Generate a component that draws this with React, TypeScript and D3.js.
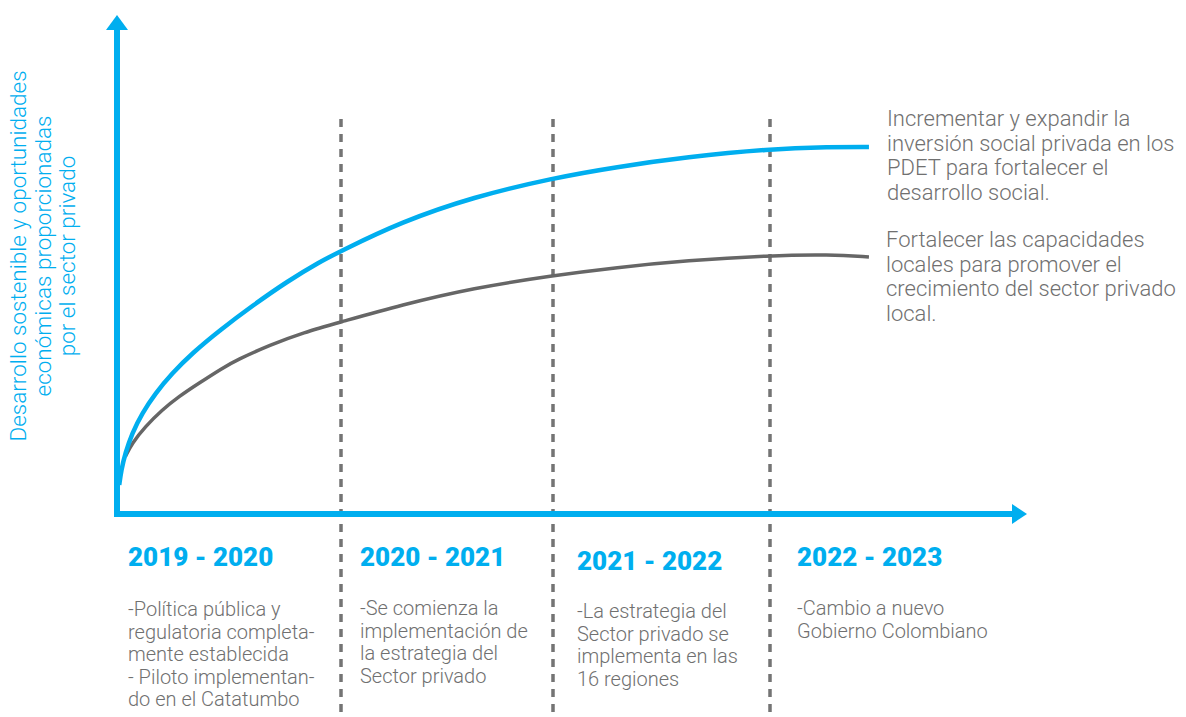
import * as d3 from "d3"

// period boundaries (years) and the labels under each period
const years = [2019, 2020, 2021, 2022, 2023]
const dividers = [2020, 2021, 2022]
const periods = ["2019 - 2020", "2020 - 2021", "2021 - 2022", "2022 - 2023"]
const periodNotes = [
  ["-Política pública y", "regulatoria completa-", "mente establecida", "- Piloto implementan-", "do en el Catatumbo"],
  ["-Se comienza la", "implementación de", "la estrategia del", "Sector privado"],
  ["-La estrategia del", "Sector privado se", "implementa en las", "16 regiones"],
  ["-Cambio a nuevo", "Gobierno Colombiano"],
]

// curve readings: x in years, y on an arbitrary 0-100 scale
const socialX = [2019.01, 2019.019, 2019.037, 2019.067, 2019.112, 2019.171, 2019.246, 2019.335, 2019.46, 2019.609, 2019.758, 2019.906, 2020, 2020.283, 2020.623, 2021, 2021.29, 2021.618, 2021.995, 2022.276, 2022.456]
const socialY = [5.8, 8.8, 12.14, 16.14, 20.14, 24.14, 28.14, 32.14, 36.8, 41.8, 46.46, 50.46, 52.6, 58.4, 63.4, 67.2, 69.4, 71.4, 73, 73.4, 73.4]
const localX = [2019.037, 2019.067, 2019.126, 2019.201, 2019.275, 2019.365, 2019.469, 2019.534, 2019.683, 2019.832, 2020, 2020.283, 2020.623, 2021, 2021.29, 2021.618, 2021.995, 2022.276, 2022.456]
const localY = [11.46, 14.14, 17.46, 20.8, 23.46, 26.14, 29.14, 30.8, 33.8, 36.3, 38.4, 41.8, 45.2, 47.7, 49.3, 50.7, 51.7, 51.9, 51.4]

const socialLabel = ["Incrementar y expandir la", "inversión social privada en los", "PDET para fortalecer el", "desarrollo social."]
const localLabel = ["Fortalecer las capacidades", "locales para promover el", "crecimiento del sector privado", "local."]
const yTitle = ["Desarrollo sostenible y oportunidades", "económicas proporcionadas", "por el sector privado"]

const W = 1186
const H = 717
const CYAN = "#00aeef"
const GREY = "#666666"
const TEXT = "#707070"
const FONT = "Roboto, 'Noto Sans', sans-serif"

export default function App() {
  const x = d3.scaleLinear().domain(years).range([117, 341, 553, 770, 987])
  const y = d3.scaleLinear().domain([0, 100]).range([514, 14])

  // basis keeps the hand-read points from producing small wobbles
  const line = d3
    .line<[number, number]>()
    .x((d) => x(d[0]))
    .y((d) => y(d[1]))
    .curve(d3.curveBasis)

  const social = socialX.map((v, i) => [v, socialY[i]] as [number, number])
  const local = localX.map((v, i) => [v, localY[i]] as [number, number])

  const x0 = x(2019)
  const yBase = y(0)
  const headX = [128, 360, 577, 797]
  const headY = [566, 566, 570, 566]
  const noteY = [616, 615, 618, 615]

  return (
    <svg width={W} height={H} style={{ position: "absolute", left: 0, top: 0 }} fontFamily={FONT}>
      <rect width={W} height={H} fill="#fff" />

      {/* period dividers */}
      {dividers.map((d) => (
        <line key={d} x1={x(d)} x2={x(d)} y1={119} y2={H} stroke={GREY} strokeWidth={3.5} strokeDasharray="8 7" opacity={0.9} />
      ))}

      {/* curves */}
      <path d={line(local) ?? ""} fill="none" stroke={GREY} strokeWidth={3.5} />
      <path d={line(social) ?? ""} fill="none" stroke={CYAN} strokeWidth={4.5} />

      {/* axes with arrows */}
      <line x1={x0} x2={x0} y1={yBase + 3} y2={28} stroke={CYAN} strokeWidth={6} />
      <path d={`M${x0 - 11},${30} L${x0},${15} L${x0 + 11},${30} Z`} fill={CYAN} />
      <line x1={x0 - 3} x2={1012} y1={yBase} y2={yBase} stroke={CYAN} strokeWidth={6} />
      <path d={`M1012,${yBase - 10} L1027,${yBase} L1012,${yBase + 10} Z`} fill={CYAN} />

      {/* y title */}
      <g transform="translate(0,256) rotate(-90)">
        {yTitle.map((t, i) => (
          <text key={i} x={0} y={26 + i * 24.5} textAnchor="middle" fontSize={22.5} fontWeight={300} fill={CYAN}>
            {t}
          </text>
        ))}
      </g>

      {/* series labels */}
      {socialLabel.map((t, i) => (
        <text key={t} x={887} y={126 + i * 24.5} fontSize={22} fontWeight={300} fill={TEXT}>
          {t}
        </text>
      ))}
      {localLabel.map((t, i) => (
        <text key={t} x={886} y={247 + i * 24.5} fontSize={22} fontWeight={300} fill={TEXT}>
          {t}
        </text>
      ))}

      {/* period headers and notes */}
      {periods.map((p, i) => (
        <g key={p}>
          <text x={headX[i]} y={headY[i]} fontSize={26} fontWeight={900} fill={CYAN}>
            {p}
          </text>
          {periodNotes[i].map((n, j) => (
            <text key={j} x={headX[i]} y={noteY[i] + j * 22.5} fontSize={20} fontWeight={300} fill={TEXT}>
              {n}
            </text>
          ))}
        </g>
      ))}
    </svg>
  )
}
